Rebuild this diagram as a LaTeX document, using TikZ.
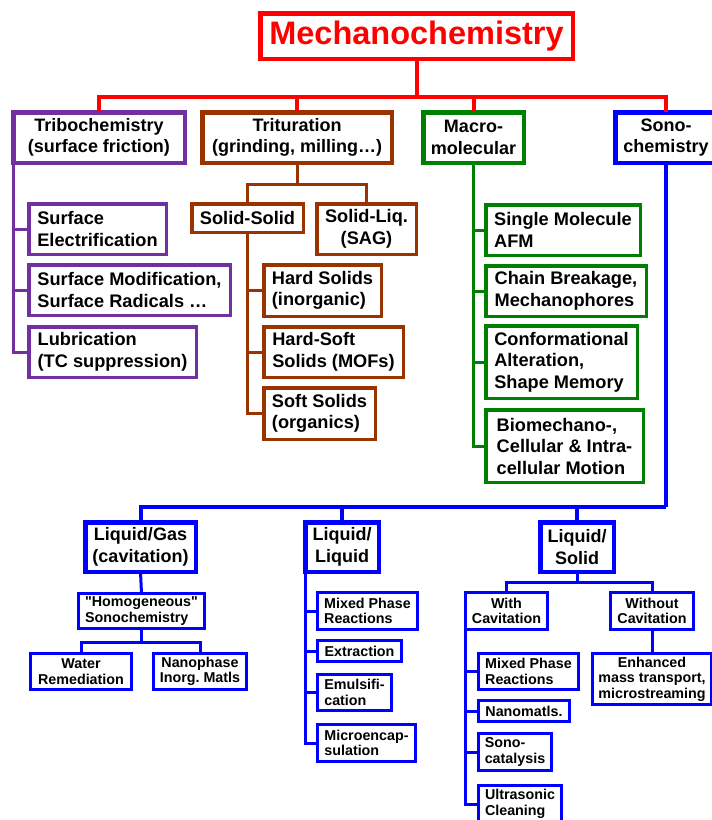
\documentclass[tikz,border=0pt]{standalone}
\usepackage{fontspec}
\setmainfont{Liberation Sans}[Ligatures={TeXOff,CommonOff}]
\frenchspacing
\definecolor{cpur}{RGB}{112,48,160}
\definecolor{cbrn}{RGB}{153,51,0}
\definecolor{cgrn}{RGB}{0,128,0}
\definecolor{cblu}{RGB}{0,0,255}
\definecolor{cred}{RGB}{255,0,0}
\begin{document}
\begin{tikzpicture}[x=1pt,y=-1pt,
 box/.style={draw, fill=white, outer sep=0pt, inner sep=1pt},
 maj/.style={box, line width=4.5pt, font=\fontsize{18}{21.5}\selectfont\bfseries, align=center},
 sub/.style={box, line width=3.5pt, font=\fontsize{18.2}{21.5}\selectfont\bfseries, align=left},
 sml/.style={box, line width=3pt, font=\fontsize{14.3}{15.5}\selectfont\bfseries, align=left},
 sz/.style 2 args={minimum width=#1pt, minimum height=#2pt},
 conn/.style={line width=3pt}]
\useasboundingbox (0,0) rectangle (712,820);
\fill[white] (0,0) rectangle (712,820);
\clip (0,0) rectangle (712,820);

% top
\node[maj, draw=cred, text=cred, font=\fontsize{32.5}{36}\selectfont\bfseries, sz={312.5}{45.5}] (mech) at (416.5,36) {Mechanochemistry};

% level 1
\node[maj, draw=cpur, sz={171.5}{50.5}] (tribo) at (99,137.5) {Tribochemistry\\(surface friction)};
\node[maj, draw=cbrn, sz={189.5}{50.5}] (trit) at (297,137.5) {Trituration\\(grinding, milling…)};
\node[maj, draw=cgrn, sz={100.5}{50.5}] (macro) at (473.5,137.5) {Macro-\\molecular};
\node[maj, draw=cblu, sz={101.5}{50.5}] (sono) at (666,137.5) {Sono-\\chemistry};

% purple
\node[sub, draw=cpur, sz={137.5}{50.5}] (se) at (97.5,229) {Surface\\Electrification};
\node[sub, draw=cpur, sz={201.5}{50.5}] (sm) at (129.5,290) {Surface Modification,\\Surface Radicals …};
\node[sub, draw=cpur, sz={167.5}{50.5}] (lub) at (112.5,352) {Lubrication\\(TC suppression)};

% brown
\node[sub, draw=cbrn, sz={111.5}{28.5}] (ss) at (247.5,218) {Solid-Solid};
\node[sub, draw=cbrn, align=center, sz={99.5}{50.5}] (sl) at (366.5,229) {Solid-Liq.\\(SAG)};
\node[sub, draw=cbrn, sz={117.5}{51.5}] (hs) at (322.5,290.5) {Hard Solids\\(inorganic)};
\node[sub, draw=cbrn, sz={139.5}{50.5}] (hss) at (333.5,352) {Hard-Soft\\Solids (MOFs)};
\node[sub, draw=cbrn, sz={111.5}{51.5}] (soft) at (319.5,413.5) {Soft Solids\\(organics)};

% green
\node[sub, draw=cgrn, sz={154.5}{50.5}] (sma) at (563,230) {Single Molecule\\AFM};
\node[sub, draw=cgrn, sz={160.5}{50.5}] (cb) at (566,291) {Chain Breakage,\\Mechanophores};
\node[sub, draw=cgrn, sz={151.5}{72.5}] (ca) at (561.5,362) {Conformational\\Alteration,\\Shape Memory};
\node[sub, draw=cgrn, sz={157.5}{72.5}] (bio) at (564.5,446) {Biomechano-,\\Cellular \& Intra-\\cellular Motion};

% blue major
\node[maj, draw=cblu, sz={110.5}{49.5}] (lg) at (140.5,547) {Liquid/Gas\\(cavitation)};
\node[maj, draw=cblu, sz={73.5}{49.5}] (ll) at (342,547) {Liquid/\\Liquid};
\node[maj, draw=cblu, sz={73.5}{49.5}] (ls) at (577,547) {Liquid/\\Solid};

% blue small
\node[sml, draw=cblu, sz={126}{35}] (hom) at (141.5,611) {"Homogeneous"\\Sonochemistry};
\node[sml, draw=cblu, align=center, sz={101}{36}] (wr) at (81,671.5) {Water\\Remediation};
\node[sml, draw=cblu, align=center, sz={93}{36}] (np) at (200,671.5) {Nanophase\\Inorg. Matls};

\node[sml, draw=cblu, sz={100}{37}] (mpra) at (367.5,611) {Mixed Phase\\Reactions};
\node[sml, draw=cblu, sz={84}{21}] (ext) at (359.5,651) {Extraction};
\node[sml, draw=cblu, sz={74}{36}] (emu) at (354.5,692.5) {Emulsifi-\\cation};
\node[sml, draw=cblu, sz={98}{37}] (mic) at (366.5,743) {Microencap-\\sulation};

\node[sml, draw=cblu, align=center, sz={82}{37}] (wc) at (506.5,611) {With\\Cavitation};
\node[sml, draw=cblu, align=center, sz={83}{37}] (woc) at (652,611) {Without\\Cavitation};
\node[sml, draw=cblu, align=center, sz={119}{51}] (enh) at (652,679) {Enhanced\\mass transport,\\microstreaming};
\node[sml, draw=cblu, sz={100}{36}] (mprb) at (528.5,671.5) {Mixed Phase\\Reactions};
\node[sml, draw=cblu, sz={91}{21}] (nano) at (524,711) {Nanomatls.};
\node[sml, draw=cblu, sz={73}{37}] (sonoc) at (515,752) {Sono-\\catalysis};
\node[sml, draw=cblu, sz={83}{37}] (ult) at (520,804) {Ultrasonic\\Cleaning};

% red connectors
\coordinate (rj) at (416.5,97);
\draw[conn, cred, line width=4pt] (mech.south) -- (rj);
\foreach \n in {tribo,trit,macro,sono} \draw[conn, cred, line width=4pt] (\n.north) |- (rj);

% purple
\foreach \n in {se,sm,lub} \draw[conn, cpur] (tribo.south west) |- (\n.west);

% brown
\coordinate (bj) at (297,184);
\draw[conn, cbrn] (trit.south) -- (bj);
\draw[conn, cbrn] (ss.north) |- (bj);
\draw[conn, cbrn] (sl.north) |- (bj);
\foreach \n in {hs,hss,soft} \draw[conn, cbrn] (ss.south) |- (\n.west);

% green
\foreach \n in {sma,cb,ca,bio} \draw[conn, cgrn] (macro.south) |- (\n.west);

% blue
\coordinate (bb) at (666,507);
\draw[conn, cblu, line width=4pt] (sono.south) -- (bb);
\foreach \n in {lg,ll,ls} \draw[conn, cblu, line width=4pt] (\n.north) |- (bb);
\draw[conn, cblu] (lg.south) -- (hom.north);
\coordinate (hj) at (141.5,642);
\draw[conn, cblu] (hom.south) -- (hj);
\draw[conn, cblu] (wr.north) |- (hj);
\draw[conn, cblu] (np.north) |- (hj);
\foreach \n in {mpra,ext,emu,mic} \draw[conn, cblu] (ll.south west) |- (\n.west);
\coordinate (lsj) at (577,582);
\draw[conn, cblu] (ls.south) -- (lsj);
\draw[conn, cblu] (wc.north) |- (lsj);
\draw[conn, cblu] (woc.north) |- (lsj);
\draw[conn, cblu] (woc.south) -- (enh.north);
\foreach \n in {mprb,nano,sonoc,ult} \draw[conn, cblu] (wc.south west) |- (\n.west);
\end{tikzpicture}
\end{document}
